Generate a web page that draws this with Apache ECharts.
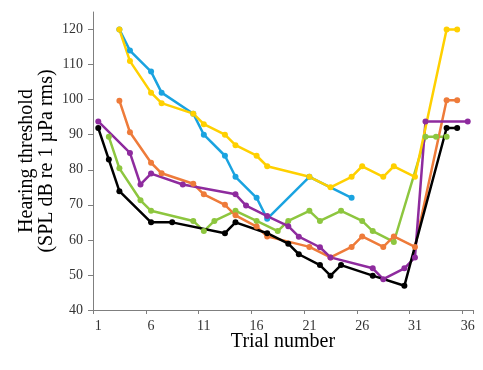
<!DOCTYPE html>
<html>
<head>
<meta charset="utf-8">
<script src="https://cdn.jsdelivr.net/npm/echarts@6/dist/echarts.min.js"></script>
<style>
html,body{margin:0;padding:0;background:#fff;}
#chart{width:483px;height:370px;}
</style>
</head>
<body>
<div id="chart"></div>
<script>
// Categories (trial numbers)
const trials = Array.from({length: 36}, (_, i) => String(i + 1));
const xTickLabels = ['1','6','11','16','21','26','31','36'];
const yTickValues = [40,50,60,70,80,90,100,110,120];

// Series data: trial numbers and thresholds
const blueTrials   = [3,4,6,7,10,11,13,14,16,17,21,25];
const blueValues   = [120,114,108,102,96,90,84,78,72,66,78,72];

const yellowTrials = [3,4,6,7,10,11,13,14,16,17,21,23,25,26,28,29,31,34,35];
const yellowValues = [120,111,102,99,96,93,90,87,84,81,78,75,78,81,78,81,78,120,120];

const orangeTrials = [3,4,6,7,10,11,13,14,16,17,21,23,25,26,28,29,31,34,35];
const orangeValues = [99.7,90.7,82,79,76,73,70,67,63.8,61,58,55,58,61,58,61,58,99.8,99.8];

const greenTrials  = [2,3,5,6,10,11,12,14,16,18,19,21,22,24,26,27,29,32,33,34];
const greenValues  = [89.4,80.4,71.3,68.3,65.4,62.5,65.4,68.3,65.4,62.5,65.4,68.3,65.4,68.3,65.4,62.5,59.4,89.4,89.4,89.4];

const purpleTrials = [1,4,5,6,9,14,15,17,19,20,22,23,27,28,30,31,32,36];
const purpleValues = [93.8,84.8,75.8,78.9,75.8,73,69.8,66.8,63.9,60.9,57.9,55,51.9,48.8,51.9,55,93.8,93.8];

const blackTrials  = [1,2,3,6,8,13,14,17,19,20,22,23,24,27,30,34,35];
const blackValues  = [91.9,82.9,73.9,65,65,61.9,65,61.9,58.9,55.9,52.8,49.8,52.8,49.8,46.9,91.9,91.9];

function pairs(ts, vs){ return ts.map((t, i) => [String(t), vs[i]]); }

const seriesDefs = [
  {name:'blue',   color:'#1AA3E0', t:blueTrials,   v:blueValues},
  {name:'green',  color:'#8DC63F', t:greenTrials,  v:greenValues},
  {name:'orange', color:'#EE7B3A', t:orangeTrials, v:orangeValues},
  {name:'purple', color:'#8E2B9E', t:purpleTrials, v:purpleValues},
  {name:'black',  color:'#000000', t:blackTrials,  v:blackValues},
  {name:'yellow', color:'#FFD000', t:yellowTrials, v:yellowValues}
];

const chart = echarts.init(document.getElementById('chart'), null, {renderer:'canvas'});
const font = 'Liberation Serif';
chart.setOption({
  animation:false,
  backgroundColor:'#fff',
  grid:{left:93, right:10, top:12, bottom:60, containLabel:false},
  xAxis:{
    type:'category',
    data:trials,
    boundaryGap:true,
    name:'Trial number',
    nameLocation:'middle',
    nameGap:22,
    nameMoveOverlap:false,
    nameTextStyle:{fontFamily:font, fontSize:20, color:'#000'},
    axisLine:{lineStyle:{color:'#7f7f7f', width:1}},
    axisTick:{show:true, interval:4, length:4, lineStyle:{color:'#7f7f7f'}},
    axisLabel:{interval:4, fontFamily:font, fontSize:14, color:'#333', margin:9},
    splitLine:{show:false}
  },
  yAxis:{
    type:'value',
    min:40, max:125, interval:10,
    name:'Hearing threshold\n(SPL dB re 1 µPa rms)',
    nameLocation:'middle',
    nameGap:36,
    nameMoveOverlap:false,
    nameRotate:90,
    nameTextStyle:{fontFamily:font, fontSize:20, color:'#000', lineHeight:20},
    axisLine:{show:true, lineStyle:{color:'#7f7f7f', width:1}},
    axisTick:{show:true, length:5, customValues:yTickValues, lineStyle:{color:'#7f7f7f'}},
    axisLabel:{customValues:yTickValues, fontFamily:font, fontSize:14, color:'#333', margin:10},
    splitLine:{show:false}
  },
  series: seriesDefs.map(s => ({
    name:s.name,
    type:'line',
    data:pairs(s.t, s.v),
    connectNulls:true,
    symbol:'circle',
    symbolSize:6,
    showSymbol:true,
    lineStyle:{color:s.color, width:2.5},
    itemStyle:{color:s.color},
    emphasis:{disabled:true}
  }))
});
</script>
</body>
</html>
